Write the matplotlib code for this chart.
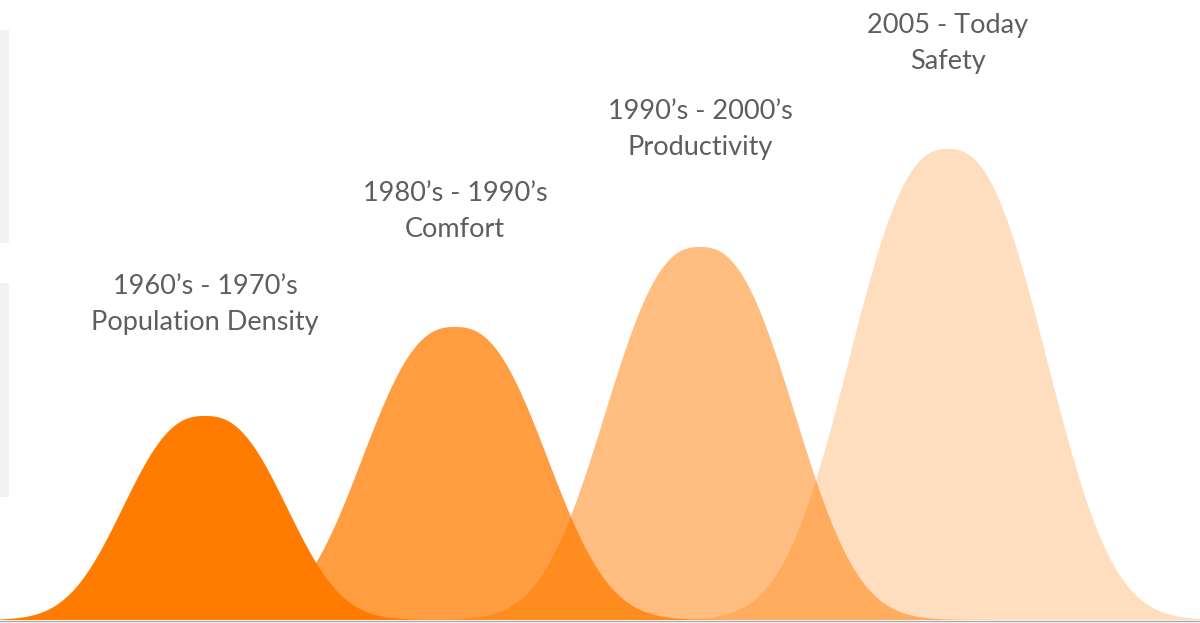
import numpy as np
import matplotlib
matplotlib.use("Agg")
import matplotlib.pyplot as plt
from matplotlib.patches import Rectangle

# ---- data ----
periods = ["1960\u2019s - 1970\u2019s", "1980\u2019s - 1990\u2019s", "1990\u2019s - 2000\u2019s", "2005 - Today"]
themes = ["Population Density", "Comfort", "Productivity", "Safety"]
centers = [205, 455, 700, 948]
peaks = [204, 293, 373, 471]
widths = [101, 114, 117, 122]
alphas = [1.0, 0.75, 0.5, 0.25]

# ---- layout (label gap above each peak, px) ----
label_gap = [86, 90, 92, 80]
LINE_STEP = 36

BASE = "#FF7C00"
TEXT = "#5E5E5E"

fig = plt.figure(figsize=(12, 6.23), dpi=100)
ax = fig.add_axes([0, 0, 1, 1])
ax.set_xlim(0, 1200)
ax.set_ylim(-3, 620)
ax.axis("off")

# decorative light-grey bars at the left edge
ax.add_patch(Rectangle((0, 123), 9, 214, color="#F2F2F2", lw=0, zorder=0))
ax.add_patch(Rectangle((0, 377), 9, 213, color="#F2F2F2", lw=0, zorder=0))

x = np.linspace(0, 1200, 2401)
for i, (c, h, w, a) in enumerate(zip(centers, peaks, widths, alphas)):
    y = h * np.exp(-(np.abs(x - c) / w) ** 2.5)
    ax.fill_between(x, 0, y, color=BASE, alpha=a, lw=0, zorder=1 + i)

ax.axhline(-1, color="#A8A8A8", lw=1.0, zorder=10)

font = ["Lato", "DejaVu Sans"]
for c, h, p, t, g in zip(centers, peaks, periods, themes, label_gap):
    ax.text(c, h + g + LINE_STEP, p, ha="center", va="baseline", fontsize=19.5,
            color=TEXT, family=font, fontweight="normal", zorder=20)
    ax.text(c, h + g, t, ha="center", va="baseline", fontsize=19.5,
            color=TEXT, family=font, fontweight="normal", zorder=20)

fig.savefig("out.png", dpi=100)
